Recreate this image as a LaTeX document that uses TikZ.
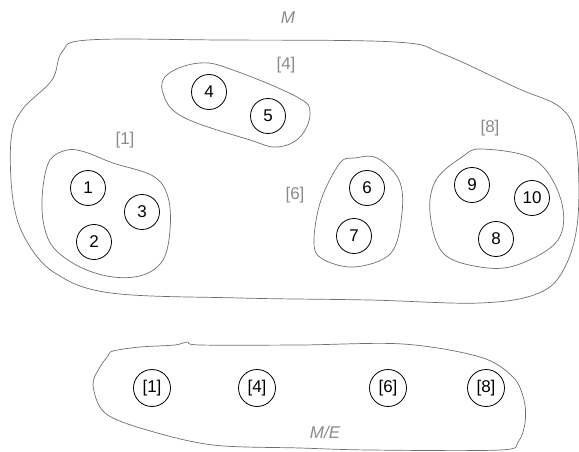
\documentclass[tikz,border=0pt]{standalone}
\usepackage{fontspec}
\setmainfont{Liberation Sans}
\definecolor{outline}{HTML}{6E6E6E}
\definecolor{tag}{HTML}{8A8A8A}
\begin{document}
\begin{tikzpicture}[x=1pt,y=-1pt,
  elem/.style={draw=black,line width=0.8pt,circle,minimum size=35pt,inner sep=0pt,font=\fontsize{17}{17}\selectfont},
  cls/.style={draw=black,line width=0.8pt,circle,minimum size=37pt,inner sep=0pt,font=\fontsize{17}{17}\selectfont},
  region/.style={draw=outline,line width=0.7pt},
  tagtext/.style={text=tag,font=\fontsize{17}{17}\selectfont},
  settext/.style={text=tag,font=\fontsize{17}{17}\selectfont\itshape}]
\useasboundingbox (0,0) rectangle (579,452);

% outer set M
\draw[region] plot[smooth cycle,tension=0.6] coordinates {
  (88,40) (221,40) (395,42) (443,54) (517,88) (561,108) (576,140)
  (578,217) (565,267) (539,293) (480,303) (369,300) (240,298)
  (111,293) (55,273) (26,240) (13,200) (11,140) (22,110) (52,80) (62,52)};
\node[settext] (M) at (288,18) {M};

% class [4]
\draw[region] plot[smooth cycle,tension=0.65] coordinates {
  (200,63) (233,70) (297,97) (310,113) (300,137) (277,147) (250,140)
  (183,117) (163,93) (168,74)};
\node[tagtext] (t4) at (286,65) {[4]};

% class [1]
\draw[region] plot[smooth cycle,tension=0.6] coordinates {
  (85,152) (113,163) (153,176) (168,197) (170,230) (163,260) (143,275)
  (113,277) (80,267) (53,247) (43,220) (43,187) (50,160) (67,150)};
\node[tagtext] (t1) at (125,140) {[1]};

% class [6]
\draw[region] plot[smooth cycle,tension=0.6] coordinates {
  (377,158) (399,180) (402,213) (391,253) (354,267) (321,258) (314,240)
  (321,200) (340,163) (355,158)};
\node[tagtext] (t6) at (295,195) {[6]};

% class [8]
\draw[region] plot[smooth cycle,tension=0.6] coordinates {
  (482,149) (535,160) (561,200) (558,240) (517,265) (480,267) (443,253)
  (430,213) (436,180) (462,157)};
\node[tagtext] (t8) at (490,128) {[8]};

% elements
\node[elem] (e1) at (88,188) {1};
\node[elem] (e2) at (94,242) {2};
\node[elem] (e3) at (142,212) {3};
\node[elem] (e4) at (209,92) {4};
\node[elem] (e5) at (268,116) {5};
\node[elem] (e6) at (367,188) {6};
\node[elem] (e7) at (354,236) {7};
\node[elem] (e9) at (472,185) {9};
\node[elem] (e10) at (532,198) {10};
\node[elem] (e8) at (496,239) {8};

% quotient set M/E
\draw[region] plot[smooth cycle,tension=0.55] coordinates {
  (113,351) (140,347) (175,345) (187,342) (200,345) (300,345) (403,344)
  (480,357) (513,377) (524,400) (525,423) (518,442) (500,450) (370,450)
  (300,448) (213,445) (147,430) (105,413) (93,385) (100,367) (108,356)};
\node[cls] (c1) at (152,388) {[1]};
\node[cls] (c4) at (257,388) {[4]};
\node[cls] (c6) at (388,388) {[6]};
\node[cls] (c8) at (486,388) {[8]};
\node[settext] (ME) at (325,432) {M/E};
\end{tikzpicture}
\end{document}
